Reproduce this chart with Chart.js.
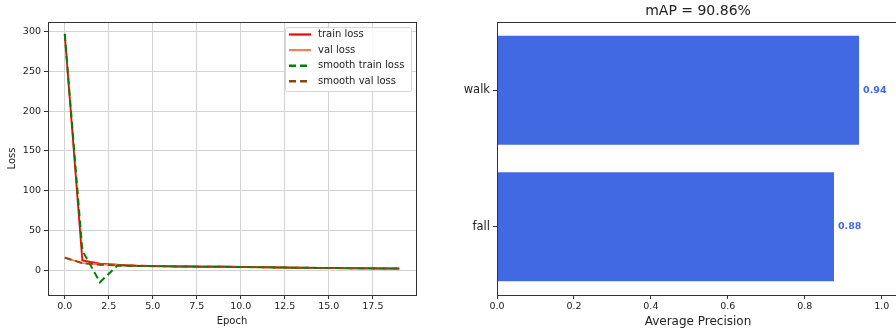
<!DOCTYPE html>
<html>
<head>
<meta charset="utf-8">
<script src="https://cdn.jsdelivr.net/npm/chart.js@4.4.0/dist/chart.umd.min.js"></script>
<style>
html, body { margin: 0; padding: 0; background: #fff; overflow: hidden; width: 896px; height: 332px; }
#lossWrap { position: absolute; left: 0; top: 0; }
#apWrap { position: absolute; left: 440px; top: 0; }
</style>
</head>
<body>
<div id="lossWrap"><canvas id="lossPlot" width="448" height="332"></canvas></div>
<div id="apWrap"><canvas id="apPlot" width="460" height="332"></canvas></div>
<script>
// loss curves
const epochs = [0, 1, 2, 3, 4, 5, 6, 7, 8, 9, 10, 11, 12, 13, 14, 15, 16, 17, 18, 19]
const trainLoss = [297, 12.5, 8.5, 7, 6, 5.5, 5, 4.8, 4.5, 4.5, 4.2, 4, 3.6, 3.3, 3, 2.9, 2.7, 2.5, 2.4, 2.2]
const valLoss = [16, 9, 7.5, 6.5, 6, 5.5, 5, 4.8, 4.5, 4.6, 4.3, 4, 3.5, 3.3, 3.1, 2.9, 2.8, 2.6, 2.5, 2.4]
const smoothTrainLoss = [297, 25, -15, 6, 5.5, 5.2, 5, 4.7, 4.5, 4.4, 4.1, 3.9, 3.6, 3.3, 3.1, 2.9, 2.7, 2.5, 2.3, 2.2]
const smoothValLoss = [16, 9, 7, 6.3, 5.8, 5.4, 5, 4.7, 4.5, 4.4, 4.2, 3.9, 3.6, 3.3, 3.1, 2.9, 2.7, 2.6, 2.4, 2.3]
const lossXTicks = [0, 2.5, 5, 7.5, 10, 12.5, 15, 17.5]
const lossYTicks = [0, 50, 100, 150, 200, 250, 300]

// average precision per class
const classes = ['fall', 'walk']
const apValues = [0.876, 0.9412]
const apXTicks = [0, 0.2, 0.4, 0.6, 0.8, 1.0]

const FONT = 'DejaVu Sans'
const TEXT = '#222'
const SPINE = '#333'
Chart.defaults.font.family = FONT
Chart.defaults.color = TEXT

const toPoints = ys => ys.map((y, i) => ({x: epochs[i], y: y}))

const frame = {
    id: 'frame',
    afterDatasetsDraw(chart) {
        const {ctx, chartArea: a} = chart
        ctx.save()
        ctx.strokeStyle = SPINE
        ctx.lineWidth = 1
        ctx.strokeRect(Math.round(a.left) + 0.5, Math.round(a.top) + 0.5,
            Math.round(a.right - a.left), Math.round(a.bottom - a.top))
        ctx.restore()
    }
}

const boxLegend = {
    id: 'boxLegend',
    afterDraw(chart) {
        const {ctx, chartArea: a} = chart
        const sets = chart.data.datasets
        const w = 126, h = 64
        const x0 = a.right - 5 - w, y0 = a.top + 5
        ctx.save()
        ctx.fillStyle = 'rgba(255,255,255,0.85)'
        ctx.strokeStyle = '#d6d6d6'
        ctx.lineWidth = 1
        ctx.beginPath()
        ctx.roundRect(x0 + 0.5, y0 + 0.5, w, h, 2)
        ctx.fill()
        ctx.stroke()
        ctx.font = '10px ' + FONT
        ctx.textBaseline = 'middle'
        sets.forEach((d, i) => {
            const y = y0 + 7.5 + i * 15.6
            ctx.strokeStyle = d.borderColor
            ctx.lineWidth = d.borderWidth + 0.4
            ctx.setLineDash(d.borderDash || [])
            ctx.beginPath()
            ctx.moveTo(x0 + 4, y)
            ctx.lineTo(x0 + 26, y)
            ctx.stroke()
            ctx.setLineDash([])
            ctx.fillStyle = TEXT
            ctx.fillText(d.label, x0 + 33, y)
        })
        ctx.restore()
    }
}

new Chart(document.getElementById('lossPlot'), {
    type: 'line',
    data: {
        datasets: [{
            label: 'train loss',
            data: toPoints(trainLoss),
            borderColor: '#ff0000',
            borderWidth: 1.8,
            order: 4,
        }, {
            label: 'val loss',
            data: toPoints(valLoss),
            borderColor: '#ff7f50',
            borderWidth: 1.8,
            order: 3,
        }, {
            label: 'smooth train loss',
            data: toPoints(smoothTrainLoss),
            borderColor: '#008000',
            borderWidth: 2,
            borderDash: [7, 4],
            order: 2,
        }, {
            label: 'smooth val loss',
            data: toPoints(smoothValLoss),
            borderColor: '#8b4513',
            borderWidth: 2,
            borderDash: [7, 4],
            order: 1,
        }]
    },
    options: {
        responsive: false,
        animation: false,
        elements: { point: { radius: 0 }, line: { tension: 0 } },
        layout: { padding: { left: 0, top: 22, right: 32, bottom: 0 } },
        plugins: { legend: { display: false }, tooltip: { enabled: false } },
        scales: {
            x: {
                type: 'linear',
                min: -0.95,
                max: 19.95,
                afterBuildTicks: axis => { axis.ticks = lossXTicks.map(v => ({value: v})) },
                afterFit: axis => { axis.height = 37 },
                ticks: { font: { size: 9.5 }, padding: 2, maxRotation: 0, callback: v => v.toFixed(1) },
                grid: { color: '#d3d3d3', tickColor: SPINE, tickLength: 4 },
                border: { color: SPINE },
                title: { display: true, text: 'Epoch', font: { size: 10 }, padding: { top: 0, bottom: 5 } }
            },
            y: {
                min: -31,
                max: 312,
                afterBuildTicks: axis => { axis.ticks = lossYTicks.map(v => ({value: v})) },
                afterFit: axis => { axis.width = 48 },
                ticks: { font: { size: 9.5 }, padding: 3, callback: v => String(v) },
                grid: { color: '#d3d3d3', tickColor: SPINE, tickLength: 4 },
                border: { color: SPINE },
                title: { display: true, text: 'Loss', font: { size: 10 }, padding: { top: 6, bottom: 0 } }
            }
        }
    },
    plugins: [frame, boxLegend]
})

const mAP = apValues.reduce((s, v) => s + v, 0) / apValues.length
const apTitle = 'mAP = ' + (mAP * 100).toFixed(2) + '%'

const topTitle = {
    id: 'topTitle',
    afterDraw(chart) {
        const {ctx, chartArea: a} = chart
        ctx.save()
        ctx.font = '14px ' + FONT
        ctx.fillStyle = TEXT
        ctx.textAlign = 'center'
        ctx.textBaseline = 'middle'
        ctx.fillText(apTitle, (a.left + a.right) / 2, 11)
        ctx.restore()
    }
}

const valueLabels = {
    id: 'valueLabels',
    afterDatasetsDraw(chart) {
        const {ctx} = chart
        const meta = chart.getDatasetMeta(0)
        const vals = chart.data.datasets[0].data
        ctx.save()
        ctx.font = 'bold 9.5px ' + FONT
        ctx.fillStyle = '#4169e1'
        ctx.textBaseline = 'middle'
        meta.data.forEach((bar, i) => {
            ctx.fillText(vals[i].toFixed(2), bar.x + 4, bar.y)
        })
        ctx.restore()
    }
}

new Chart(document.getElementById('apPlot'), {
    type: 'bar',
    data: {
        labels: classes,
        datasets: [{
            data: apValues,
            backgroundColor: '#4169e1',
            borderWidth: 0,
            categoryPercentage: 1,
            barPercentage: 0.8,
        }]
    },
    options: {
        indexAxis: 'y',
        responsive: false,
        animation: false,
        layout: { padding: { left: 0, top: 22, right: 1, bottom: 0 } },
        plugins: { legend: { display: false }, tooltip: { enabled: false } },
        scales: {
            x: {
                min: 0,
                max: 1.045,
                afterBuildTicks: axis => { axis.ticks = apXTicks.map(v => ({value: v})) },
                afterFit: axis => { axis.height = 37 },
                ticks: { font: { size: 9.5 }, padding: 2, maxRotation: 0, callback: v => v.toFixed(1) },
                grid: { drawOnChartArea: false, tickColor: SPINE, tickLength: 4 },
                border: { color: SPINE },
                title: { display: true, text: 'Average Precision', font: { size: 12 }, padding: { top: 0, bottom: 3 } }
            },
            y: {
                reverse: true,
                afterFit: axis => { axis.width = 57 },
                ticks: { font: { size: 11.5 }, padding: 3 },
                grid: { drawOnChartArea: false, offset: false, tickColor: SPINE, tickLength: 4 },
                border: { color: SPINE }
            }
        }
    },
    plugins: [frame, topTitle, valueLabels]
})
</script>
</body>
</html>
